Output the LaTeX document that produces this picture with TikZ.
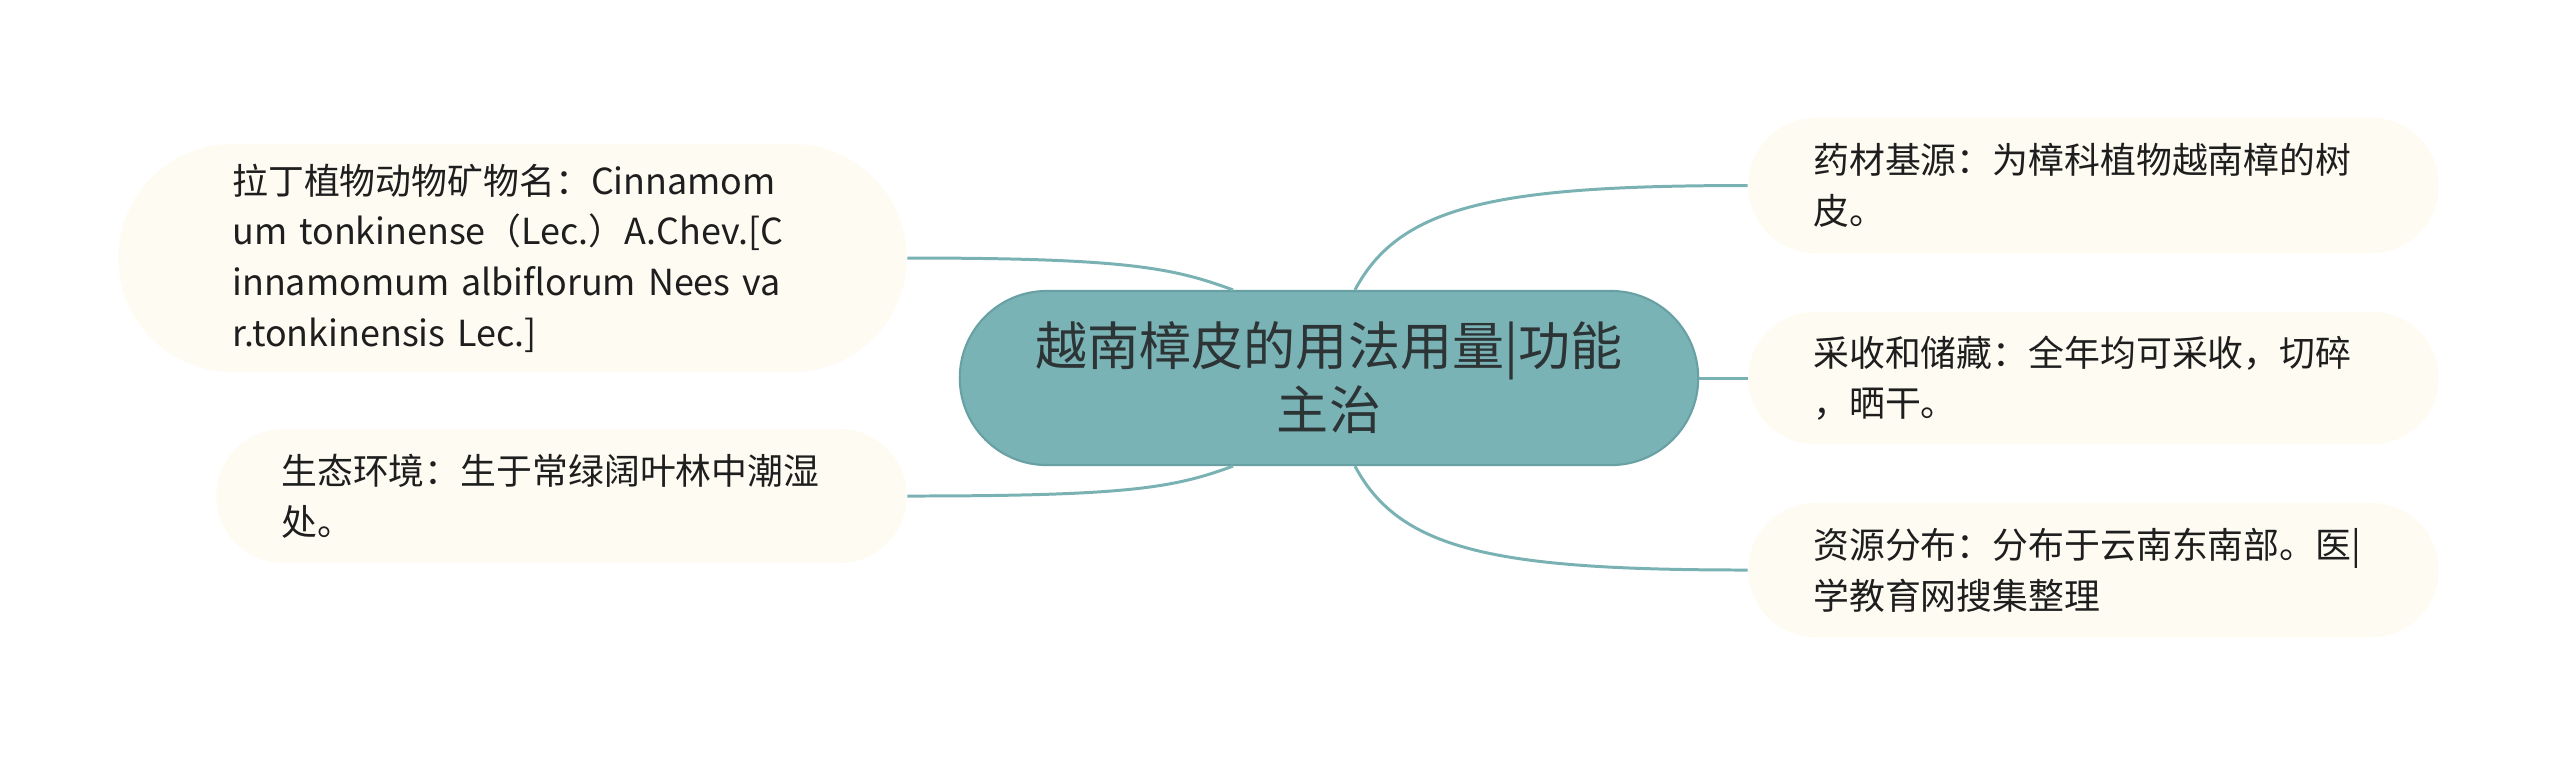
\documentclass[tikz,border=0pt]{standalone}
\usepackage{fontspec}
\setmainfont{Noto Sans CJK SC}
\usetikzlibrary{calc}
\definecolor{teal1}{RGB}{122,179,181}
\definecolor{tealedge}{RGB}{104,160,163}
\definecolor{linkc}{RGB}{122,178,180}
\definecolor{cream}{RGB}{253,251,242}
\definecolor{txt}{RGB}{30,30,30}
\definecolor{ctxt}{RGB}{45,52,54}
\tikzset{
  rootbox/.style={draw=tealedge, line width=0.6pt, fill=teal1, text=ctxt,
    minimum width=7.38cm, minimum height=1.74cm, rounded corners=0.87cm,
    align=center, font=\fontsize{14.8pt}{18.2pt}\selectfont, inner sep=0pt},
  leafbox/.style={fill=cream, text=txt, draw=none,
    text width=5.6cm, align=left, inner ysep=0pt,
    font=\fontsize{10.2pt}{14.4pt}\selectfont},
  link/.style={draw=linkc, line width=0.85pt}
}
\begin{document}
\begin{tikzpicture}[x=0.01cm,y=-0.01cm]
\useasboundingbox (0,0) rectangle (2560,756);
\node[rootbox] (c) at (1329,378) {越南樟皮的用法用量|功能\\主治};
\node[leafbox, inner xsep=1.14cm, minimum height=2.28cm, rounded corners=1.14cm] (lt) at (512.5,258)
  {拉丁植物动物矿物名：Cinnamom\\um tonkinense（Lec.）A.Chev.[C\\innamomum albiflorum Nees va\\r.tonkinensis Lec.]};
\node[leafbox, inner xsep=0.65cm, minimum height=1.34cm, rounded corners=0.67cm] (lb) at (561.5,496)
  {生态环境：生于常绿阔叶林中潮湿\\处。};
\node[leafbox, inner xsep=0.65cm, minimum height=1.35cm, rounded corners=0.67cm] (rt) at (2093.5,185.5)
  {药材基源：为樟科植物越南樟的树\\皮。};
\node[leafbox, inner xsep=0.65cm, minimum height=1.32cm, rounded corners=0.66cm] (rm) at (2093.5,378)
  {采收和储藏：全年均可采收，切碎\\，晒干。};
\node[leafbox, inner xsep=0.65cm, minimum height=1.34cm, rounded corners=0.67cm] (rb) at (2093.5,570)
  {资源分布：分布于云南东南部。医|\\学教育网搜集整理};
\draw[link] ($(c.north)+(-96,0)$) .. controls +(-60,-22) and +(220,0) .. (lt.east);
\draw[link] ($(c.south)+(-96,0)$) .. controls +(-60,22) and +(220,0) .. (lb.east);
\draw[link] ($(c.north)+(26,0)$) .. controls +(45,-85) and +(-250,0) .. (rt.west);
\draw[link] ($(c.south)+(26,0)$) .. controls +(45,85) and +(-250,0) .. (rb.west);
\draw[link] (c.east) -- (rm.west);
\end{tikzpicture}
\end{document}
